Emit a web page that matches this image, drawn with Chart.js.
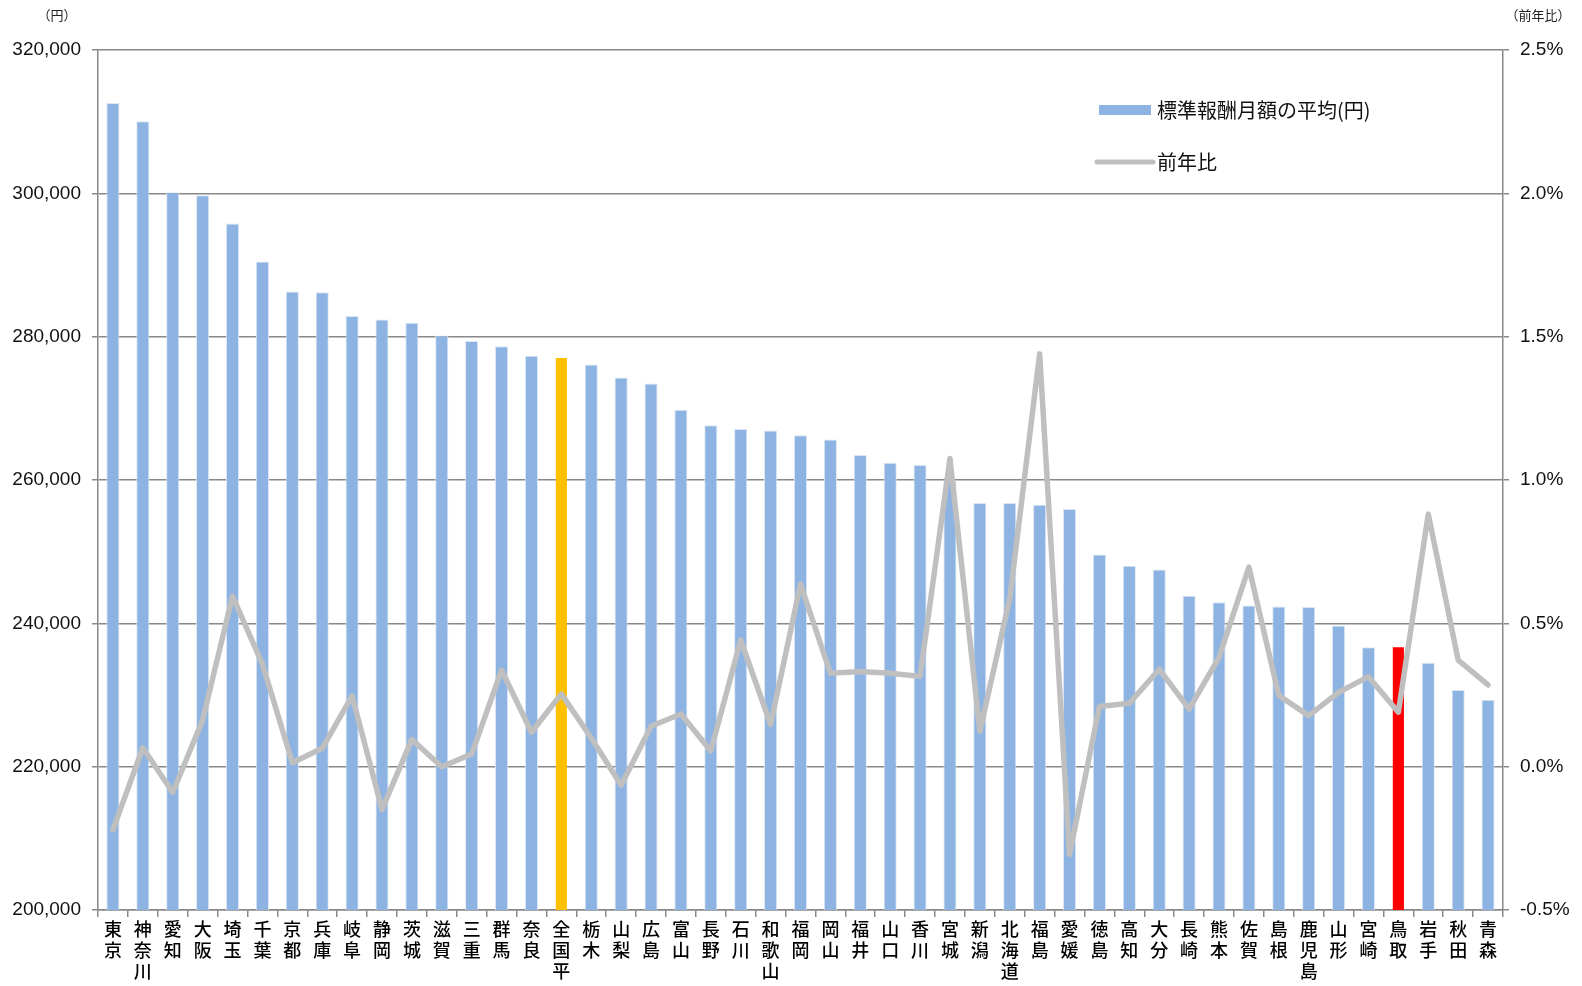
<!DOCTYPE html>
<html lang="ja">
<head>
<meta charset="utf-8">
<title>標準報酬月額の平均と前年比</title>
<script src="https://cdn.jsdelivr.net/npm/chart.js@4.4.1/dist/chart.umd.min.js"></script>
<style>
    html, body { margin: 0; padding: 0; background: #fff; }
    #wrap { width: 1582px; height: 986px; position: relative; }
</style>
</head>
<body>
<div id="wrap"><canvas id="salaryChart"></canvas></div>
<script>
// ============================
// Data
// ============================
const prefectures = [
    "東京", "神奈川", "愛知", "大阪", "埼玉", "千葉", "京都", "兵庫", "岐阜", "静岡",
    "茨城", "滋賀", "三重", "群馬", "奈良", "全国平", "栃木", "山梨", "広島", "富山",
    "長野", "石川", "和歌山", "福岡", "岡山", "福井", "山口", "香川", "宮城", "新潟",
    "北海道", "福島", "愛媛", "徳島", "高知", "大分", "長崎", "熊本", "佐賀", "島根",
    "鹿児島", "山形", "宮崎", "鳥取", "岩手", "秋田", "青森"
];

// 標準報酬月額の平均(円)
const averageSalary = [
    312600, 310050, 300150, 299750, 295800, 290500, 286300, 286200, 282900, 282400,
    281950, 280150, 279400, 278650, 277350, 277150, 276100, 274300, 273450, 269800,
    267650, 267100, 266900, 266250, 265650, 263500, 262400, 262080, 259800, 256800,
    256800, 256550, 255950, 249600, 248050, 247500, 243850, 242950, 242500, 242350,
    242270, 239700, 236650, 236800, 234500, 230700, 229350
];

// 前年比(%)
const yearOnYear = [
    -0.22, 0.066, -0.09, 0.163, 0.595, 0.358, 0.014, 0.064, 0.247, -0.149,
    0.095, 0.0, 0.044, 0.337, 0.12, 0.254, 0.10, -0.065, 0.141, 0.184,
    0.055, 0.442, 0.147, 0.637, 0.326, 0.332, 0.326, 0.315, 1.075, 0.124,
    0.586, 1.44, -0.306, 0.21, 0.221, 0.34, 0.201, 0.381, 0.696, 0.248,
    0.178, 0.259, 0.314, 0.19, 0.881, 0.372, 0.285
];

const nationalLabel = "全国平";
const focusLabel = "鳥取";

const salaryTicks = [200000, 220000, 240000, 260000, 280000, 300000, 320000];
const ratioTicks = [-0.5, 0.0, 0.5, 1.0, 1.5, 2.0, 2.5];

// ============================
// Colours
// ============================
const barBlue = "#8DB3E2";
const barEdge = "#DCE6F2";
const nationalColor = "#FFC000";
const focusColor = "#FF0000";
const lineGray = "#BFBFBF";
const gridGray = "#888888";

const barColors = prefectures.map(p => p === nationalLabel ? nationalColor : (p === focusLabel ? focusColor : barBlue));
const barBorders = prefectures.map(p => (p === nationalLabel || p === focusLabel) ? "rgba(0,0,0,0)" : barEdge);

// vertical labels: one character per line
const verticalLabels = prefectures.map(p => Array.from(p));

const numFont = "'Liberation Sans', Arial, sans-serif";
const narrowFont = "'Liberation Sans Narrow', 'Arial Narrow', 'Liberation Sans', sans-serif";
const jpFont = "'Noto Sans CJK JP', 'Noto Sans', sans-serif";

// ============================
// Plugins: unit captions and in-plot legend
// ============================
const unitCaptions = {
    id: "unitCaptions",
    afterDraw(chart) {
        const ctx = chart.ctx;
        ctx.save();
        ctx.fillStyle = "#222";
        ctx.font = "13px " + jpFont;
        ctx.textBaseline = "middle";
        ctx.textAlign = "center";
        ctx.fillText("（円）", 57, 15);
        ctx.fillText("（前年比）", 1538, 15);
        ctx.restore();
    }
};

const insideLegend = {
    id: "insideLegend",
    afterDraw(chart) {
        const ctx = chart.ctx;
        const x0 = 1099, x1 = 1151;
        const rows = [110, 162];
        ctx.save();
        ctx.font = "20px " + jpFont;
        ctx.textBaseline = "middle";
        ctx.textAlign = "left";
        chart.data.datasets.forEach((ds, i) => {
            const y = rows[i];
            if (ds.type === "bar") {
                ctx.fillStyle = barBlue;
                ctx.fillRect(x0, y - 5, x1 - x0, 10);
            } else {
                ctx.strokeStyle = ds.borderColor;
                ctx.lineWidth = 5;
                ctx.lineCap = "round";
                ctx.beginPath();
                ctx.moveTo(x0 - 2, y);
                ctx.lineTo(x1 + 2, y);
                ctx.stroke();
            }
            ctx.fillStyle = "#111";
            ctx.fillText(ds.label, 1157, y);
        });
        ctx.restore();
    }
};

// ============================
// Chart
// ============================
const ctx = document.getElementById("salaryChart").getContext("2d");

new Chart(ctx, {
    data: {
        labels: verticalLabels,
        datasets: [
            {
                type: "bar",
                label: "標準報酬月額の平均(円)",
                data: averageSalary,
                backgroundColor: barColors,
                borderColor: barBorders,
                borderWidth: 1,
                barPercentage: 0.44,
                categoryPercentage: 1.0,
                yAxisID: "y",
                order: 2
            },
            {
                type: "line",
                label: "前年比",
                data: yearOnYear,
                borderColor: lineGray,
                borderWidth: 5.5,
                borderCapStyle: "round",
                borderJoinStyle: "round",
                pointRadius: 0,
                pointHoverRadius: 0,
                tension: 0,
                fill: false,
                yAxisID: "y2",
                order: 1
            }
        ]
    },
    options: {
        responsive: true,
        maintainAspectRatio: false,
        animation: false,
        layout: { padding: { top: 50, left: 0, right: 0, bottom: 0 } },
        plugins: {
            legend: { display: false },
            tooltip: { enabled: false }
        },
        scales: {
            x: {
                offset: true,
                grid: {
                    offset: true,
                    drawOnChartArea: false,
                    drawTicks: true,
                    tickLength: 7,
                    color: gridGray,
                    lineWidth: 1.5
                },
                border: { color: gridGray, width: 1.5 },
                ticks: {
                    autoSkip: false,
                    maxRotation: 0,
                    minRotation: 0,
                    padding: 2,
                    color: "#000",
                    font: { family: jpFont, size: 18, weight: "500", lineHeight: 1.15 }
                },
                afterFit(scale) { scale.height = 76; }
            },
            y: {
                position: "left",
                min: 200000,
                max: 320000,
                afterBuildTicks(scale) { scale.ticks = salaryTicks.map(v => ({ value: v })); },
                grid: { color: gridGray, lineWidth: 1.5, tickLength: 6 },
                border: { color: gridGray, width: 1.5 },
                ticks: {
                    padding: 11,
                    color: "#111",
                    font: { family: numFont, size: 19 },
                    callback: v => v.toLocaleString("en-US")
                },
                afterFit(scale) { scale.width = 98; }
            },
            y2: {
                position: "right",
                min: -0.5,
                max: 2.5,
                afterBuildTicks(scale) { scale.ticks = ratioTicks.map(v => ({ value: v })); },
                grid: { drawOnChartArea: false, color: gridGray, lineWidth: 1.5, tickLength: 6 },
                border: { color: gridGray, width: 1.5 },
                ticks: {
                    padding: 11,
                    color: "#111",
                    font: { family: narrowFont, size: 19 },
                    callback: v => v.toFixed(1) + "%"
                },
                afterFit(scale) { scale.width = 79; }
            }
        }
    },
    plugins: [unitCaptions, insideLegend]
});
</script>
</body>
</html>
